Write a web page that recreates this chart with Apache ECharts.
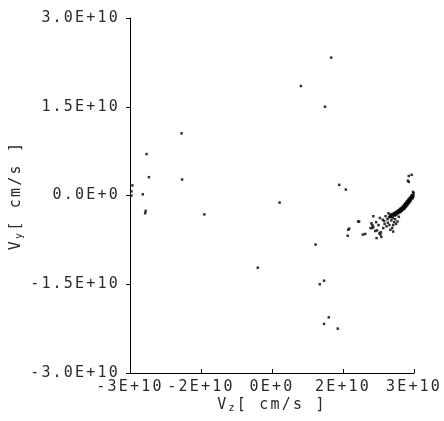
<!DOCTYPE html>
<html>
<head>
<meta charset="utf-8">
<script src="https://cdn.jsdelivr.net/npm/echarts@6/dist/echarts.min.js"></script>
<style>
html,body{margin:0;padding:0;background:#fff;}
#chart{width:444px;height:421px;}
</style>
</head>
<body>
<div id="chart"></div>
<script>
// Values in units of 1E+10 cm/s
const xTicks = [-3, -1.5, 0, 1.5, 3];
const xTickLabels = ['-3E+10', '-2E+10', '0E+0', '2E+10', '3E+10'];
const yTicks = [-3, -1.5, 0, 1.5, 3];
const yTickLabels = ['-3.0E+10', '-1.5E+10', '0.0E+0', '1.5E+10', '3.0E+10'];

const outlierPoints = [
  [1.25, 2.33], [0.61, 1.85], [1.12, 1.50], [-1.91, 1.05], [-2.65, 0.70],
  [-2.60, 0.31], [-1.90, 0.27], [-2.95, 0.17], [-2.97, 0.07], [-2.73, 0.02],
  [-2.97, 0.00], [-2.67, -0.26], [-2.68, -0.30], [-1.43, -0.32], [0.16, -0.12],
  [-0.30, -1.22], [1.10, -1.44], [1.01, -1.50], [1.20, -2.06], [1.10, -2.17],
  [1.39, -2.25], [1.42, 0.18], [1.56, 0.10], [2.89, 0.33], [2.95, 0.35],
  [2.87, 0.25], [2.89, 0.23], [1.84, -0.44], [1.63, -0.56], [1.60, -0.68],
  [0.92, -0.83]
];

const clusterPoints = [
  [2.14, -0.35], [1.82, -0.44], [2.10, -0.47], [2.12, -0.50], [2.14, -0.53],
  [2.08, -0.55], [2.12, -0.55], [2.28, -0.38], [2.34, -0.41], [2.37, -0.43],
  [2.45, -0.46], [2.22, -0.59], [2.27, -0.64], [2.30, -0.62], [2.54, -0.55],
  [2.56, -0.61], [1.61, -0.58], [1.92, -0.66], [1.97, -0.65], [2.21, -0.72],
  [2.29, -0.66], [2.31, -0.70], [2.46, -0.30], [2.50, -0.36], [2.52, -0.42],
  [2.55, -0.38], [2.58, -0.45], [2.60, -0.40], [2.62, -0.48], [2.48, -0.50],
  [2.44, -0.40], [2.40, -0.35], [2.42, -0.52], [2.65, -0.44], [2.68, -0.36],
  [2.38, -0.48], [2.35, -0.55], [2.50, -0.58], [2.56, -0.50], [2.25, -0.50],
  [2.20, -0.45], [2.18, -0.60]
];

const bandPoints = [
  [2.99, 0.04], [2.99, 0.00], [2.98, 0.06], [2.98, -0.02], [2.97, 0.01], [2.97, -0.04],
  [2.96, -0.01], [2.96, -0.05], [2.95, 0.00], [2.95, -0.03], [2.94, -0.06], [2.94, -0.02],
  [2.93, -0.04], [2.93, -0.08], [2.92, -0.06], [2.92, -0.10], [2.91, -0.04], [2.91, -0.08],
  [2.90, -0.11], [2.90, -0.06], [2.89, -0.09], [2.89, -0.13], [2.88, -0.07], [2.88, -0.11],
  [2.87, -0.14], [2.87, -0.09], [2.86, -0.12], [2.86, -0.16], [2.85, -0.10], [2.85, -0.14],
  [2.84, -0.17], [2.84, -0.12], [2.83, -0.15], [2.83, -0.19], [2.82, -0.13], [2.82, -0.17],
  [2.81, -0.20], [2.81, -0.15], [2.80, -0.18], [2.80, -0.22], [2.79, -0.16], [2.79, -0.20],
  [2.78, -0.23], [2.78, -0.18], [2.77, -0.21], [2.76, -0.24], [2.76, -0.19], [2.75, -0.22],
  [2.74, -0.26], [2.74, -0.21], [2.73, -0.24], [2.72, -0.27], [2.72, -0.22], [2.71, -0.25],
  [2.70, -0.28], [2.70, -0.23], [2.69, -0.26], [2.68, -0.29], [2.67, -0.25], [2.66, -0.28],
  [2.65, -0.31], [2.64, -0.27], [2.63, -0.30], [2.62, -0.33], [2.61, -0.28], [2.60, -0.31],
  [2.59, -0.34], [2.58, -0.30], [2.57, -0.33], [2.55, -0.31], [2.54, -0.35], [2.52, -0.32],
  [2.51, -0.36], [2.49, -0.33], [2.47, -0.37]
];

const UNIT = 1e10;
const allPoints = outlierPoints.concat(clusterPoints, bandPoints).map(p => [p[0] * UNIT, p[1] * UNIT]);

// Wide letter spacing (as in the original plotting font), applied consistently to drawing and measuring.
(function () {
  const P = CanvasRenderingContext2D.prototype;
  if (!('letterSpacing' in P)) return;
  const SP = '2.2px';
  const f = P.fillText, s = P.strokeText, m = P.measureText;
  P.fillText = function () { this.letterSpacing = SP; return f.apply(this, arguments); };
  P.strokeText = function () { this.letterSpacing = SP; return s.apply(this, arguments); };
  P.measureText = function () { this.letterSpacing = SP; return m.apply(this, arguments); };
})();

const FONT = 'DejaVu Sans Mono';
const TXT = '#2a2a2a';
const chart = echarts.init(document.getElementById('chart'), null, {renderer: 'canvas'});

function labelFor(ticks, labels) {
  return function (v) {
    for (let i = 0; i < ticks.length; i++) {
      if (Math.abs(v - ticks[i] * UNIT) < 1e3) return labels[i];
    }
    return '';
  };
}

const nameRich = {
  v: {fontFamily: FONT, fontSize: 15, lineHeight: 20, color: TXT, verticalAlign: 'middle'},
  sub: {fontFamily: FONT, fontSize: 10, lineHeight: 10, color: TXT, verticalAlign: 'bottom'}
};

chart.setOption({
  animation: false,
  backgroundColor: '#fff',
  grid: {left: 130, top: 18, width: 284, height: 355, containLabel: false, outerBoundsMode: 'none'},
  xAxis: {
    type: 'value',
    min: xTicks[0] * UNIT,
    max: xTicks[xTicks.length - 1] * UNIT,
    interval: 1.5 * UNIT,
    name: '{v|V}{sub|z}{v|[ cm/s ]}',
    nameLocation: 'middle',
    nameGap: 22,
    nameMoveOverlap: false,
    nameTextStyle: {fontFamily: FONT, fontSize: 15, color: TXT, rich: nameRich},
    axisLine: {show: true, onZero: false, lineStyle: {color: '#000', width: 1}},
    axisTick: {show: true, inside: true, length: 4, lineStyle: {color: '#000'}},
    axisLabel: {
      show: true, margin: 6, fontFamily: FONT, fontSize: 15, color: TXT,
      formatter: labelFor(xTicks, xTickLabels)
    },
    splitLine: {show: false}
  },
  yAxis: {
    type: 'value',
    min: yTicks[0] * UNIT,
    max: yTicks[yTicks.length - 1] * UNIT,
    interval: 1.5 * UNIT,
    name: '{v|V}{sub|y}{v|[ cm/s ]}',
    nameLocation: 'middle',
    nameGap: 104,
    nameRotate: 90,
    nameMoveOverlap: false,
    nameTextStyle: {fontFamily: FONT, fontSize: 15, color: TXT, rich: nameRich},
    axisLine: {show: true, onZero: false, lineStyle: {color: '#000', width: 1}},
    axisTick: {show: true, inside: false, length: 4, lineStyle: {color: '#000'}},
    axisLabel: {
      show: true, margin: 10, fontFamily: FONT, fontSize: 15, color: TXT,
      formatter: labelFor(yTicks, yTickLabels)
    },
    splitLine: {show: false}
  },
  series: [{
    type: 'scatter',
    data: allPoints,
    symbol: 'rect',
    symbolSize: 2.5,
    itemStyle: {color: '#000'},
    silent: true
  }]
});
</script>
</body>
</html>
